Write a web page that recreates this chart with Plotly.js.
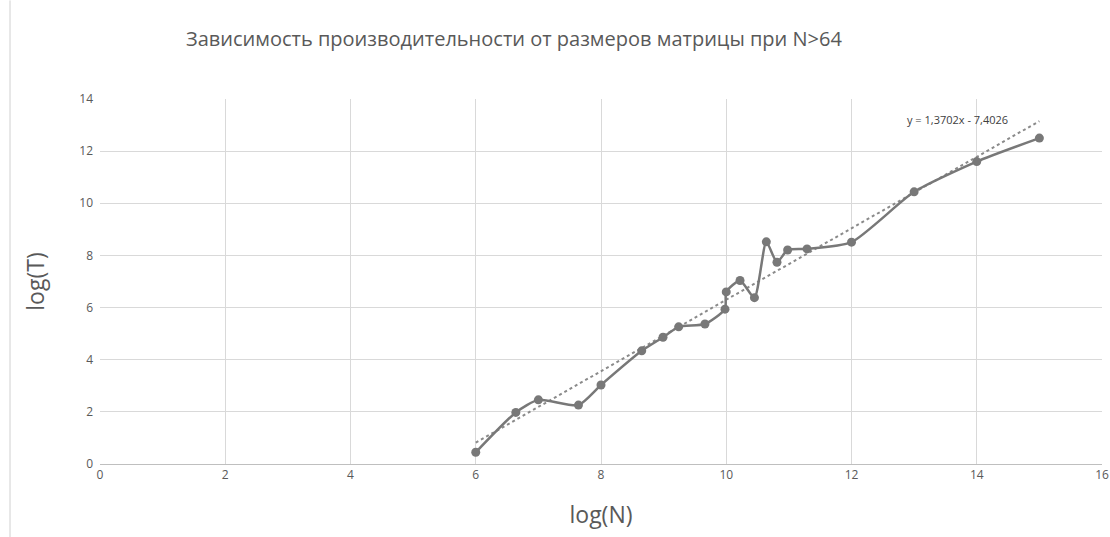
<!DOCTYPE html>
<html>
<head>
<meta charset="utf-8">
<script src="https://cdn.plot.ly/plotly-3.0.1.min.js"></script>
<style>
html,body{margin:0;padding:0;background:#fff;}
#chart{width:1110px;height:537px;}
</style>
</head>
<body>
<div id="chart"></div>
<script>
// Data
const logN = [6, 6.64, 7, 7.64, 8, 8.65, 8.99, 9.24, 9.66, 9.98, 10, 10.22, 10.45, 10.64, 10.81, 10.98, 11.29, 12, 13, 14, 15];
const logT = [0.45, 1.98, 2.46, 2.26, 3.03, 4.34, 4.86, 5.26, 5.37, 5.94, 6.6, 7.04, 6.38, 8.52, 7.74, 8.21, 8.25, 8.51, 10.44, 11.6, 12.5];
const trendSlope = 1.3702;
const trendIntercept = -7.4026;
const trendLabel = "y = 1,3702x - 7,4026";
const xTicks = [0, 2, 4, 6, 8, 10, 12, 14, 16];
const yTicks = [0, 2, 4, 6, 8, 10, 12, 14];
const titleText = "Зависимость производительности от размеров матрицы при N>64";
const xTitle = "log(N)";
const yTitle = "log(T)";

const xMin = Math.min(...logN), xMax = Math.max(...logN);
const trendX = [xMin, xMax];
const trendY = trendX.map(v => trendSlope * v + trendIntercept);

const gray = "#787878";
const textGray = "#595959";

const traces = [
  {
    x: trendX, y: trendY, type: "scatter", mode: "lines",
    line: {color: "#8a8a8a", width: 2, dash: "dot"},
    hoverinfo: "skip", showlegend: false
  },
  {
    x: logN, y: logT, type: "scatter", mode: "lines+markers",
    line: {color: gray, width: 2.5, shape: "spline", smoothing: 0.6},
    marker: {color: gray, size: 9, symbol: "circle"},
    showlegend: false
  }
];

const layout = {
  width: 1110, height: 537,
  margin: {l: 100, r: 8, t: 99, b: 73},
  paper_bgcolor: "#ffffff", plot_bgcolor: "#ffffff",
  font: {family: "Open Sans, sans-serif", color: textGray},
  title: {
    text: titleText, font: {size: 20, color: textGray, family: "Open Sans, sans-serif"},
    x: 0.463, xanchor: "center", y: 0.927, yanchor: "middle"
  },
  xaxis: {
    range: [0, 16], tickvals: xTicks, ticktext: xTicks.map(String),
    showgrid: true, gridcolor: "#d9d9d9", gridwidth: 1,
    zeroline: false, showline: true, linecolor: "#bfbfbf", linewidth: 1,
    ticks: "", tickfont: {size: 12, color: textGray},
    title: {text: xTitle, font: {size: 23, color: textGray}, standoff: 24},
    fixedrange: true
  },
  yaxis: {
    range: [0, 14], tickvals: yTicks, ticktext: yTicks.map(String),
    showgrid: true, gridcolor: "#d9d9d9", gridwidth: 1,
    zeroline: false, showline: false,
    ticks: "", tickfont: {size: 12, color: textGray}, ticklabelstandoff: 6,
    title: {text: yTitle, font: {size: 23, color: textGray}, standoff: 28},
    fixedrange: true
  },
  annotations: [
    {
      text: trendLabel, xref: "x", yref: "y", x: 13.7, y: 13.2,
      xanchor: "center", yanchor: "middle", showarrow: false,
      font: {size: 11, color: "#404040"}
    }
  ],
  shapes: [
    {
      type: "line", xref: "paper", yref: "paper",
      x0: -0.0898, x1: -0.0898, y0: -0.2, y1: 1.27,
      line: {color: "#d0d0d0", width: 1}
    }
  ]
};

Plotly.newPlot("chart", traces, layout, {displayModeBar: false, staticPlot: true});
</script>
</body>
</html>
